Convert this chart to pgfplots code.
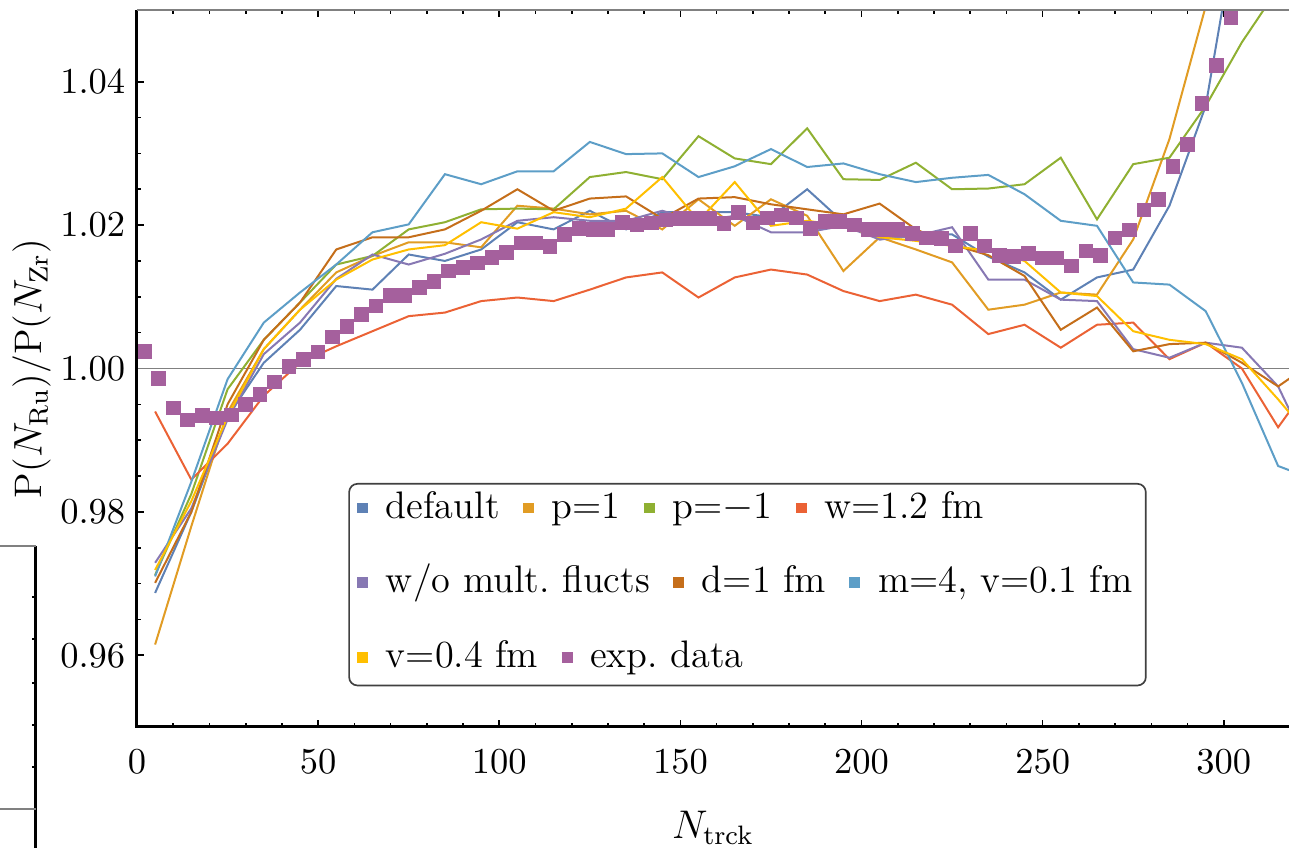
\documentclass[border=0pt]{standalone}
\usepackage{pgfplots}
\pgfplotsset{compat=1.18}
\usepackage{pgfplotstable}

\definecolor{colA}{HTML}{5E81B5}
\definecolor{colB}{HTML}{E19C24}
\definecolor{colC}{HTML}{8FB032}
\definecolor{colD}{HTML}{EB6235}
\definecolor{colE}{HTML}{8778B3}
\definecolor{colF}{HTML}{C56E1A}
\definecolor{colG}{HTML}{5D9EC7}
\definecolor{colH}{HTML}{FFBF00}
\definecolor{colI}{HTML}{A5609D}

% x, default, p=1, p=-1, w=1.2, w/o, d=1, m=4, v=0.4
\pgfplotstableread{
x    def    pa     pb     w      wo     d      m      v
5    0.9687 0.9615 0.9712 0.9940 0.9729 0.9701 0.9710 0.9719
15   0.9800 0.9780 0.9825 0.9845 0.9805 0.9800 0.9842 0.9815
25   0.9933 0.9939 0.9971 0.9895 0.9929 0.9950 0.9985 0.9933
35   1.0008 1.0027 1.0040 0.9962 1.0020 1.0040 1.0064 1.0027
45   1.0054 1.0082 1.0092 1.0008 1.0064 1.0092 1.0106 1.0082
55   1.0115 1.0134 1.0145 1.0031 1.0125 1.0166 1.0145 1.0124
65   1.0110 1.0157 1.0157 1.0052 1.0159 1.0183 1.0190 1.0152
75   1.0159 1.0176 1.0194 1.0073 1.0145 1.0183 1.0201 1.0166
85   1.0150 1.0176 1.0204 1.0078 1.0160 1.0194 1.0271 1.0172
95   1.0166 1.0169 1.0222 1.0094 1.0180 1.0220 1.0257 1.0204
105  1.0204 1.0227 1.0223 1.0099 1.0206 1.0250 1.0275 1.0195
115  1.0194 1.0223 1.0222 1.0094 1.0211 1.0220 1.0275 1.0218
125  1.0220 1.0215 1.0267 1.0110 1.0206 1.0237 1.0316 1.0211
135  1.0194 1.0220 1.0274 1.0127 1.0206 1.0240 1.0299 1.0223
145  1.0218 1.0194 1.0264 1.0134 1.0220 1.0209 1.0300 1.0267
155  1.0218 1.0236 1.0324 1.0099 1.0205 1.0237 1.0267 1.0206
165  1.0218 1.0199 1.0293 1.0127 1.0213 1.0239 1.0282 1.0260
175  1.0211 1.0236 1.0285 1.0138 1.0190 1.0229 1.0306 1.0199
185  1.0250 1.0213 1.0335 1.0131 1.0190 1.0222 1.0281 1.0206
195  1.0204 1.0136 1.0264 1.0108 1.0199 1.0215 1.0286 1.0199
205  1.0180 1.0183 1.0263 1.0094 1.0180 1.0230 1.0271 1.0183
215  1.0187 1.0166 1.0287 1.0103 1.0185 1.0194 1.0260 1.0178
225  1.0187 1.0148 1.0250 1.0089 1.0197 1.0173 1.0266 1.0171
235  1.0156 1.0082 1.0251 1.0048 1.0124 1.0158 1.0270 1.0164
245  1.0134 1.0089 1.0257 1.0061 1.0124 1.0129 1.0243 1.0150
255  1.0096 1.0106 1.0294 1.0029 1.0096 1.0054 1.0206 1.0106
265  1.0127 1.0103 1.0208 1.0061 1.0094 1.0085 1.0199 1.0101
275  1.0138 1.0180 1.0285 1.0064 1.0027 1.0024 1.0120 1.0052
285  1.0227 1.0320 1.0294 1.0013 1.0015 1.0034 1.0117 1.0040
295  1.0366 1.0505 1.0366 1.0036 1.0036 1.0036 1.0080 1.0034
305  1.0660 1.0700 1.0455 1.0000 1.0029 1.0008 0.9980 1.0013
315  1.0900 1.0900 1.0530 0.9918 0.9975 0.9975 0.9864 0.9957
325  1.1000 1.1000 1.0700 0.9988 0.9870 1.0010 0.9845 0.9897
}\tmodel

\pgfplotstableread{
x   y
2   1.0024
6   0.9986
10  0.9945
14  0.9928
18  0.9934
22  0.9931
26  0.9935
30  0.9950
34  0.9964
38  0.9981
42  1.0003
46  1.0013
50  1.0023
54  1.0044
58  1.0059
62  1.0075
66  1.0087
70  1.0102
74  1.0102
78  1.0113
82  1.0121
86  1.0136
90  1.0141
94  1.0147
98  1.0155
102 1.0162
106 1.0175
110 1.0175
114 1.0170
118 1.0187
122 1.0195
126 1.0194
130 1.0194
134 1.0204
138 1.0200
142 1.0203
146 1.0207
150 1.0209
154 1.0209
158 1.0209
162 1.0202
166 1.0218
170 1.0203
174 1.0210
178 1.0214
182 1.0210
186 1.0195
190 1.0205
194 1.0205
198 1.0200
202 1.0194
206 1.0194
210 1.0194
214 1.0188
218 1.0182
222 1.0181
226 1.0171
230 1.0188
234 1.0171
238 1.0158
242 1.0156
246 1.0160
250 1.0154
254 1.0154
258 1.0143
262 1.0164
266 1.0158
270 1.0182
274 1.0193
278 1.0221
282 1.0236
286 1.0282
290 1.0312
294 1.0370
298 1.0423
302 1.0490
}\texp

\newcommand{\sw}[1]{\textcolor{#1}{\rule[1.6pt]{3.3pt}{3.2pt}}\hspace{5.3pt}}
\newcommand{\gap}{\hspace{7pt}}
\newcommand{\lfont}{\fontsize{11.5}{13}\selectfont}

\begin{document}
\begin{tikzpicture}
\begin{axis}[
  name=ax,
  scale only axis,
  width=345.6pt, height=215.1pt,
  xmin=0, xmax=318, ymin=0.95, ymax=1.05,
  axis line style={draw=none},
  clip mode=individual,
  tick align=inside,
  xtick={0,50,...,300},
  ytick={0.96,0.98,1.00,1.02,1.04},
  minor x tick num=4,
  minor y tick num=3,
  xtick pos=both, ytick pos=left,
  major tick length=2.2pt, minor tick length=1.3pt,
  tick style={black, line width=0.5pt},
  yticklabel style={/pgf/number format/.cd, fixed, fixed zerofill, precision=2},
  tick label style={font=\fontsize{10.5}{12}\selectfont},
  xticklabel style={yshift=-3.5pt},
  xlabel={$N_{\mathrm{trck}}$},
  ylabel={P($N_{\mathrm{Ru}}$)/P($N_{\mathrm{Zr}}$)},
  every axis x label/.style={at={(rel axis cs:0.5,0)}, anchor=base, yshift=-33.6pt, font=\lfont},
  every axis y label/.style={at={(rel axis cs:0,0.5)}, xshift=-31.5pt, rotate=90, anchor=center, font=\lfont},
  every axis plot/.append style={line width=0.6pt},
]
\draw[gray, line width=0.5pt] (axis cs:0,1) -- (axis cs:318,1);
\addplot[colA] table[x=x, y=def] {\tmodel};
\addplot[colB] table[x=x, y=pa]  {\tmodel};
\addplot[colC] table[x=x, y=pb]  {\tmodel};
\addplot[colD] table[x=x, y=w]   {\tmodel};
\addplot[colE] table[x=x, y=wo]  {\tmodel};
\addplot[colF] table[x=x, y=d]   {\tmodel};
\addplot[colG] table[x=x, y=m]   {\tmodel};
\addplot[colH] table[x=x, y=v]   {\tmodel};
\addplot[colI, only marks, mark=square*, mark size=1.9pt, mark options={draw=none, fill=colI}] table[x=x, y=y] {\texp};
\draw[black, line width=0.9pt] (rel axis cs:0,1) -- (rel axis cs:0,0) -- (rel axis cs:1,0);
\draw[gray, line width=0.5pt] (rel axis cs:0,1) -- (rel axis cs:1,1);
\end{axis}

\begin{scope}[shift={(ax.south west)}]
  \node[draw=black!75, rounded corners=2.5pt, fill=white, line width=0.5pt,
        anchor=north west, minimum width=239pt, minimum height=60.5pt, inner sep=0pt]
        at (63.4pt,73.2pt) {};
  \node[anchor=base west, inner sep=0pt, font=\lfont] at (65.9pt,62.5pt)
    {\sw{colA}default\gap\sw{colB}p=1\gap\sw{colC}p=$-$1\gap\sw{colD}w=1.2 fm};
  \node[anchor=base west, inner sep=0pt, font=\lfont] at (65.9pt,40.2pt)
    {\sw{colE}w/o mult.\ flucts\gap\sw{colF}d=1 fm\gap\sw{colG}m=4, v=0.1 fm};
  \node[anchor=base west, inner sep=0pt, font=\lfont] at (65.9pt,17.7pt)
    {\sw{colH}v=0.4 fm\gap\sw{colI}exp.\ data};
  % fragment of a neighbouring frame at the left edge
  \draw[black, line width=0.9pt] (-30.3pt,54.3pt) -- (-30.3pt,-40pt);
  \draw[gray, line width=0.5pt] (-41.1pt,54.3pt) -- (-30.3pt,54.3pt);
  \draw[gray, line width=0.5pt] (-41.1pt,-24.6pt) -- (-30.3pt,-24.6pt);
  \foreach \yy in {39,26.4,13.2,0.6,-12}
    \draw[black, line width=0.5pt] (-30.3pt,\yy pt) -- ++(-1.3pt,0);
\end{scope}

\pgfresetboundingbox
\path[use as bounding box, shift={(ax.south west)}] (-41.1pt,-36.3pt) rectangle (345.6pt,218.1pt);
\end{tikzpicture}
\end{document}
